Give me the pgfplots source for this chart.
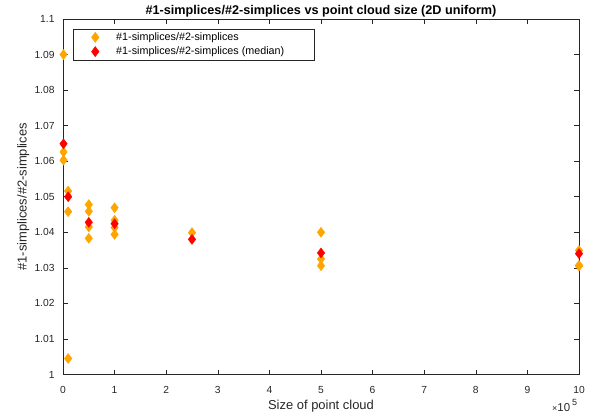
\documentclass[border=0pt]{standalone}
\usepackage{pgfplots}
\pgfplotsset{compat=1.18}
\usepackage{fontspec}
\setmainfont{Liberation Sans}
\definecolor{morange}{RGB}{255,165,0}
\definecolor{axgray}{RGB}{38,38,38}
\pgfplotsset{mylegimg/.style={legend image code/.code={\path[draw=none,fill=none] (0bp,-4bp) rectangle (31bp,4bp);\draw[mark repeat=2,mark phase=2,##1] plot coordinates {(0bp,0bp) (12bp,0bp) (31bp,0bp)};}}}
\begin{document}
\begin{tikzpicture}
\begin{axis}[
  at={(0,0)}, anchor=south west,
  scale only axis, width=516bp, height=355.5bp,
  xmin=0, xmax=10, ymin=1, ymax=1.1,
  clip=false,
  xtick={0,1,2,3,4,5,6,7,8,9,10},
  ytick={1,1.01,1.02,1.03,1.04,1.05,1.06,1.07,1.08,1.09,1.1},
  yticklabels={1,1.01,1.02,1.03,1.04,1.05,1.06,1.07,1.08,1.09,1.1},
  /pgf/number format/assume math mode=true,
  tick align=inside, major tick length=5bp,
  axis line style={axgray, line width=0.5pt},
  every tick/.style={axgray, line width=0.5pt},
  tick label style={font=\fontsize{10.3}{12}\selectfont, text=axgray},
  xticklabel style={yshift=-8.5bp},
  yticklabel style={xshift=-5bp},
  xlabel={Size of point cloud},
  ylabel={\#1-simplices/\#2-simplices},
  label style={font=\fontsize{13}{15}\selectfont, text=axgray},
  xlabel style={at={(axis description cs:0.5,0)}, anchor=base, yshift=-34.5bp},
  ylabel style={at={(axis description cs:-0.0707,0.5)}, anchor=base},
  title={\textbf{\#1-simplices/\#2-simplices vs point cloud size (2D uniform)}},
  title style={font=\fontsize{12.7}{14}\selectfont, at={(axis description cs:0.5,1)}, anchor=base, yshift=-1.5bp},
  legend style={at={(0.0194,0.972)}, anchor=north west, draw=axgray, line width=0.5pt,
    font=\fontsize{10.8}{12}\selectfont, inner xsep=10bp, inner ysep=1.5bp, row sep=1bp},
  legend cell align=left,
]
\addplot[only marks, mark=diamond*, mark size=5bp, morange, mark options={draw=none, fill=morange}, mylegimg] coordinates {
 (0.01,1.0900) (0.01,1.0626) (0.01,1.0603)
 (0.1,1.0516) (0.1,1.0458) (0.1,1.0045)
 (0.5,1.0478) (0.5,1.0459) (0.5,1.0415) (0.5,1.0383)
 (1,1.0469) (1,1.0434) (1,1.0413) (1,1.0394)
 (2.5,1.0399)
 (5,1.0400) (5,1.0325) (5,1.0306)
 (10,1.0349) (10,1.0307) (10,1.0305)
};
\addlegendentry{\#1-simplices/\#2-simplices}
\addplot[only marks, mark=diamond*, mark size=5bp, red, mark options={draw=none, fill=red}, mylegimg] coordinates {
 (0.01,1.0649) (0.1,1.0500) (0.5,1.0428) (1,1.0424) (2.5,1.0380) (5,1.0342) (10,1.0340)
};
\addlegendentry{\makebox[186bp][l]{\#1-simplices/\#2-simplices (median)}}
\coordinate (br) at (rel axis cs:1,0);
\end{axis}
\node[anchor=base east, text=axgray, inner sep=0pt] at ([xshift=-1.7bp,yshift=-36.5bp]br) {\fontsize{9}{10}\selectfont×\fontsize{11.5}{13}\selectfont10\,\raisebox{5.5bp}{\fontsize{9}{10}\selectfont 5}};
\pgfresetboundingbox
\path[use as bounding box] (-63bp,-43.5bp) rectangle (531bp,374.5bp);
\end{tikzpicture}
\end{document}
